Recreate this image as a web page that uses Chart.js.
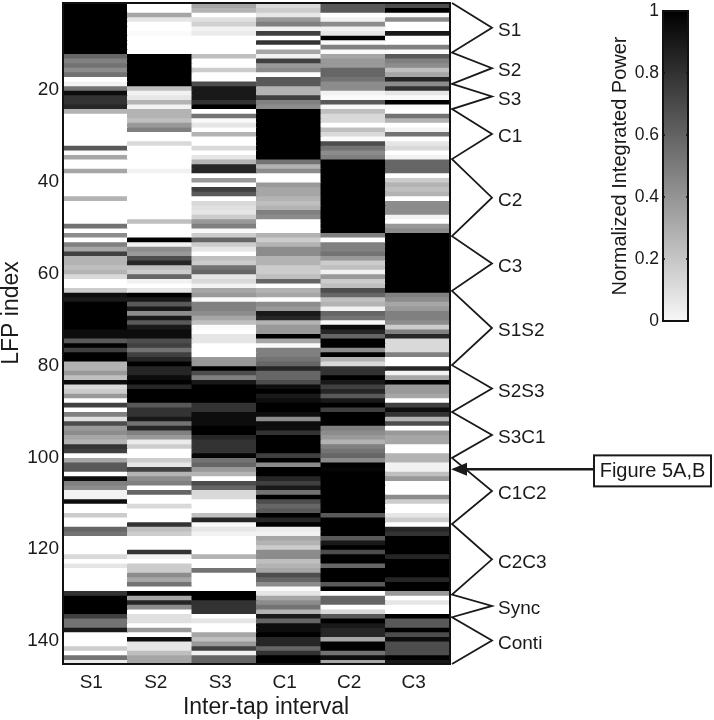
<!DOCTYPE html>
<html>
<head>
<meta charset="utf-8">
<title>LFP index</title>
<script src="https://cdn.jsdelivr.net/npm/chart.js@4/dist/chart.umd.min.js"></script>
<style>
  body { margin: 0; background: #fff; }
  #wrap { position: relative; width: 714px; height: 720px; }
  canvas { position: absolute; top: 0; }
  #heatmap { left: 0; }
  #colorbar { left: 600px; }
</style>
</head>
<body>
<div id="wrap">
  <canvas id="heatmap" width="714" height="720"></canvas>
  <canvas id="colorbar" width="114" height="335"></canvas>
</div>
<script>
// Inter-tap intervals (columns)
const intervals = ["S1", "S2", "S3", "C1", "C2", "C3"];

// Normalized power per LFP, top to bottom, one array per column
const s1Values = [
  1,1,1,1,1,1,1,1,1,1,1,.6,.5,.55,.45,.55,0,.05,.55,.95,.8,.8,.85,.3,
  0,0,0,0,0,0,0,.65,.02,.35,0,0,.35,0,0,0,0,0,.3,0,0,0,0,0,
  .55,0,.45,0,.5,.35,.75,.3,.3,.25,.3,.15,0,0,.2,.95,.9,1,1,1,1,1,1,.95,
  .95,.65,1,.75,1,1,.3,.3,.4,.25,.95,.15,.2,.4,0,.75,0,.5,.12,.7,.4,.45,.35,.3,
  .8,.75,0,.35,.65,.65,0,.95,.5,.45,.05,.05,.95,0,0,.2,0,0,.6,.55,0,0,0,0,
  .15,0,.1,0,0,0,0,0,.8,1,1,1,1,.75,.55,.55,.9,0,0,0,.2,0,.55,.08
];
const s2Values = [
  0,0,.35,.1,0,0,.02,0,0,0,0,1,1,1,1,1,1,1,.25,.05,.1,.3,.05,.3,
  .3,.25,.4,.5,0,0,.15,0,0,0,0,0,.05,0,0,0,0,0,0,0,0,0,0,.25,
  0,0,0,1,.05,.45,.4,.7,.85,.25,.2,.6,.05,0,.1,1,.9,.65,.9,.45,.9,.65,.9,.95,
  .95,.7,.75,.55,.75,.85,1,.85,.85,.95,1,.85,1,1,1,.65,.8,.8,.9,.55,.85,.5,.4,.08,
  .2,0,0,.2,.1,.75,.3,.45,.5,0,.6,0,0,.15,0,0,0,.8,.25,.2,0,0,0,.8,
  .05,0,.2,.2,.45,.35,.55,0,1,.35,.85,.45,0,.12,.12,0,.4,0,.95,.1,.1,.25,.35,.35
];
const s3Values = [
  .35,.3,0,.12,.18,.05,.08,0,0,0,0,.25,0,0,.2,0,0,.7,.9,.9,.9,.8,1,0,
  .55,.02,.1,0,.3,0,0,.15,0,.1,.3,.85,.85,0,.4,0,.75,.65,0,.15,.12,.1,.2,.4,
  .5,.02,.2,.6,.2,.1,0,.25,.2,.55,.6,.1,.15,.05,.35,.4,.02,.5,.5,.45,.35,.25,.02,0,
  .1,.1,0,0,0,.4,.4,1,.7,.5,.9,1,1,1,1,.8,.8,.95,.95,.95,1,1,.85,.8,
  .8,.8,.98,.55,.6,.4,.3,0,.7,.6,.15,.15,0,0,0,.25,.85,.02,.1,.05,0,0,0,0,
  .3,0,0,.55,0,0,0,0,1,1,.8,.8,.8,0,.1,0,0,.35,.25,.4,.75,.05,.6,.6
];
const c1Values = [
  .15,.2,.1,.4,.5,.05,.75,0,.8,0,.35,.05,.75,.4,.45,0,.65,.65,.3,.3,.75,.5,.45,1,
  1,1,1,1,1,1,1,1,1,1,.55,.3,.45,0,0,.4,.35,.35,.3,.25,.3,.5,.45,0,
  0,0,.3,.2,.3,.45,.45,.3,.3,.2,.2,.25,.6,0,.3,.35,0,.45,.4,.9,.85,.3,.4,.4,
  1,.35,.02,.5,.5,.55,.6,.85,.6,.6,.7,.95,1,.9,.95,1,1,.95,.45,.95,.95,.8,1,1,
  1,1,.75,1,.45,1,1,.85,.75,.9,.55,1,.7,.6,.65,1,.85,1,.08,.05,.35,.3,.2,.45,
  .45,.25,.3,.35,.7,.6,.45,.02,.1,.35,.45,.55,.3,.9,.6,.95,.95,1,.85,.85,.6,.8,1,1
];
const c2Values = [
  .65,.65,0,.05,.45,.05,.1,1,.02,.5,.02,.35,.4,.4,.6,.6,.55,.45,.45,.05,.02,.65,.02,.25,
  .15,.15,0,.25,.15,.02,.7,.55,.45,.5,1,1,1,1,1,1,1,1,1,1,1,1,1,1,
  1,1,.5,0,.5,.5,.55,.4,.2,.25,.05,.4,.2,.25,.7,.6,.25,.3,.05,.6,.55,.02,.95,.85,
  .6,1,1,.45,1,.3,.15,.8,.8,1,.9,.75,.85,.65,.9,1,.75,1,1,1,.5,.45,.4,.3,
  .5,.55,.6,.45,1,.98,1,1,1,1,1,1,1,1,1,.65,1,1,1,1,.65,.9,1,.7,
  1,1,.6,1,1,1,.65,1,0,.6,.6,0,.15,.65,1,.9,.85,.85,.35,1,1,.55,.95,.35
];
const c3Values = [
  .7,1,.02,.45,0,0,.9,0,0,.5,.02,.65,.5,.45,.25,.35,.85,.45,.8,.1,.02,1,.02,0,
  .55,.3,0,.05,.55,0,.1,.15,0,.05,.6,.6,.6,0,.2,.3,.25,.3,0,.45,.45,.45,.05,0,
  .4,.45,1,1,1,1,1,1,1,1,1,1,1,1,1,.5,.45,.35,.4,.5,.5,.45,.2,.5,
  .85,.15,.15,.15,.5,0,0,.85,.05,.35,1,.4,.4,.35,0,.75,.95,.8,.3,.7,0,.4,.35,.35,
  0,0,.3,.3,.05,.05,.25,.4,0,0,0,.45,.2,0,0,.1,.2,0,.85,.8,1,1,1,1,
  .85,1,1,1,1,.85,1,1,.4,0,.1,0,0,1,.65,.65,1,.7,.95,.7,.7,.7,1,.9
];

// LFP groups and where their brackets start/end on the LFP axis
const groupNames = ["S1", "S2", "S3", "C1", "C2", "C3", "S1S2", "S2S3", "S3C1", "C1C2", "C2C3", "Sync", "Conti"];
const groupEdges = [1, 11.8, 18.6, 24.1, 35, 51.8, 63.7, 79.9, 90.1, 100.1, 114.5, 129.9, 134.8, 145];

const yTickValues = [20, 40, 60, 80, 100, 120, 140];
const colorbarTicks = [0, 0.2, 0.4, 0.6, 0.8, 1];
const arrowLfp = 102.6;

const FONT = "'Liberation Sans', Arial, sans-serif";
const INK = "#1a1a1a";
const columns = [s1Values, s2Values, s3Values, c1Values, c2Values, c3Values];

// white (0) to black (1)
function grayFor(v) {
  const g = Math.round(255 * (1 - v));
  return `rgb(${g},${g},${g})`;
}

// One dataset per LFP row, one floating bar per column
const rowDatasets = s1Values.map((_, row) => ({
  data: intervals.map(() => [row + 1, row + 2]),
  backgroundColor: columns.map((col) => grayFor(col[row])),
  borderWidth: 0,
  inflateAmount: 0.5,
  barPercentage: 1,
  categoryPercentage: 1,
  grouped: false,
}));

const framePlugin = {
  id: "frame",
  afterDraw(chart) {
    const { ctx, chartArea: a } = chart;
    ctx.save();
    ctx.strokeStyle = "#111";
    ctx.lineWidth = 2;
    ctx.strokeRect(a.left, a.top, a.right - a.left, a.bottom - a.top);
    ctx.restore();
  },
};

// Zigzag brackets, group names, off-centre axis titles and the Figure 5A,B callout
const bracketPlugin = {
  id: "brackets",
  afterDraw(chart) {
    const { ctx, scales } = chart;
    const y = scales.y;
    const xBase = chart.chartArea.right + 2;
    const xTip = 492;

    ctx.save();
    ctx.strokeStyle = INK;
    ctx.fillStyle = INK;
    ctx.lineWidth = 1.8;
    ctx.lineJoin = "miter";
    ctx.font = `19px ${FONT}`;
    ctx.textBaseline = "middle";

    ctx.beginPath();
    ctx.moveTo(xBase, y.getPixelForValue(groupEdges[0]));
    groupNames.forEach((name, i) => {
      const mid = (groupEdges[i] + groupEdges[i + 1]) / 2;
      ctx.lineTo(xTip, y.getPixelForValue(mid));
      ctx.lineTo(xBase, y.getPixelForValue(groupEdges[i + 1]));
    });
    ctx.stroke();

    groupNames.forEach((name, i) => {
      const mid = (groupEdges[i] + groupEdges[i + 1]) / 2;
      ctx.fillText(name, xTip + 6, y.getPixelForValue(mid) + 3);
    });

    // callout box
    const ay = y.getPixelForValue(arrowLfp);
    ctx.lineWidth = 2;
    ctx.strokeRect(594, ay - 14, 117, 31);
    ctx.textAlign = "center";
    ctx.font = `20px ${FONT}`;
    ctx.fillText("Figure 5A,B", 652.5, ay + 2);

    // arrow
    ctx.lineWidth = 2.5;
    ctx.beginPath();
    ctx.moveTo(594, ay);
    ctx.lineTo(464, ay);
    ctx.stroke();
    ctx.beginPath();
    ctx.moveTo(xBase - 1, ay);
    ctx.lineTo(467, ay - 6.5);
    ctx.lineTo(467, ay + 6.5);
    ctx.closePath();
    ctx.fill();

    // axis titles sit off the plot centre in the original
    ctx.font = `23px ${FONT}`;
    ctx.fillText("Inter-tap interval", 266, 708);
    ctx.translate(12, 313);
    ctx.rotate(-Math.PI / 2);
    ctx.fillText("LFP index", 0, 0);
    ctx.restore();
  },
};

new Chart(document.getElementById("heatmap"), {
  type: "bar",
  data: { labels: intervals, datasets: rowDatasets },
  plugins: [framePlugin, bracketPlugin],
  options: {
    responsive: false,
    animation: false,
    layout: { padding: { top: 3, right: 264, bottom: 0, left: 0 } },
    plugins: { legend: { display: false }, tooltip: { enabled: false } },
    scales: {
      x: {
        grid: { display: false, drawTicks: false },
        border: { display: false },
        ticks: { color: INK, font: { family: FONT, size: 19 }, padding: 7, maxRotation: 0, labelOffset: -4 },
        afterFit(scale) {
          scale.height = 56;
          scale.paddingLeft = 0;
          scale.paddingRight = 0;
        },
      },
      y: {
        reverse: true,
        min: 1,
        max: 145,
        grid: { display: false, drawTicks: false },
        border: { display: false },
        afterBuildTicks(scale) { scale.ticks = yTickValues.map((value) => ({ value })); },
        ticks: { color: INK, font: { family: FONT, size: 19 }, padding: 4 },
        afterFit(scale) {
          scale.width = 63;
          scale.paddingTop = 0;
          scale.paddingBottom = 0;
        },
      },
    },
  },
});

// Colorbar: a single floating bar from 0 to 1 with a gray gradient
const colorbarTickPlugin = {
  id: "colorbarTicks",
  afterDraw(chart) {
    const { ctx, chartArea: a, scales } = chart;
    ctx.save();
    ctx.strokeStyle = "#111";
    ctx.lineWidth = 1.5;
    colorbarTicks.forEach((t) => {
      const py = scales.y.getPixelForValue(t);
      ctx.beginPath();
      ctx.moveTo(a.left, py);
      ctx.lineTo(a.left + 2, py);
      ctx.moveTo(a.right, py);
      ctx.lineTo(a.right - 2, py);
      ctx.stroke();
    });
    ctx.restore();
  },
};

new Chart(document.getElementById("colorbar"), {
  type: "bar",
  data: {
    labels: [""],
    datasets: [{
      data: [[0, 1]],
      barPercentage: 1,
      categoryPercentage: 1,
      backgroundColor(context) {
        const a = context.chart.chartArea;
        if (!a) return "#888";
        const grad = context.chart.ctx.createLinearGradient(0, a.top, 0, a.bottom);
        grad.addColorStop(0, "#000");
        grad.addColorStop(1, "#f7f7f7");
        return grad;
      },
    }],
  },
  plugins: [framePlugin, colorbarTickPlugin],
  options: {
    responsive: false,
    animation: false,
    layout: { padding: { top: 11, right: 26, bottom: 14, left: 8 } },
    plugins: { legend: { display: false }, tooltip: { enabled: false } },
    scales: {
      x: { display: false },
      y: {
        min: 0,
        max: 1,
        grid: { display: false, drawTicks: false },
        border: { display: false },
        afterBuildTicks(scale) { scale.ticks = colorbarTicks.map((value) => ({ value })); },
        ticks: { color: INK, font: { family: FONT, size: 17.5 }, padding: 4, callback: (v) => String(v) },
        title: { display: true, text: "Normalized Integrated Power", color: INK, font: { family: FONT, size: 20 }, padding: 0 },
        afterFit(scale) {
          scale.width = 55;
          scale.paddingTop = 0;
          scale.paddingBottom = 0;
        },
      },
    },
  },
});
</script>
</body>
</html>
